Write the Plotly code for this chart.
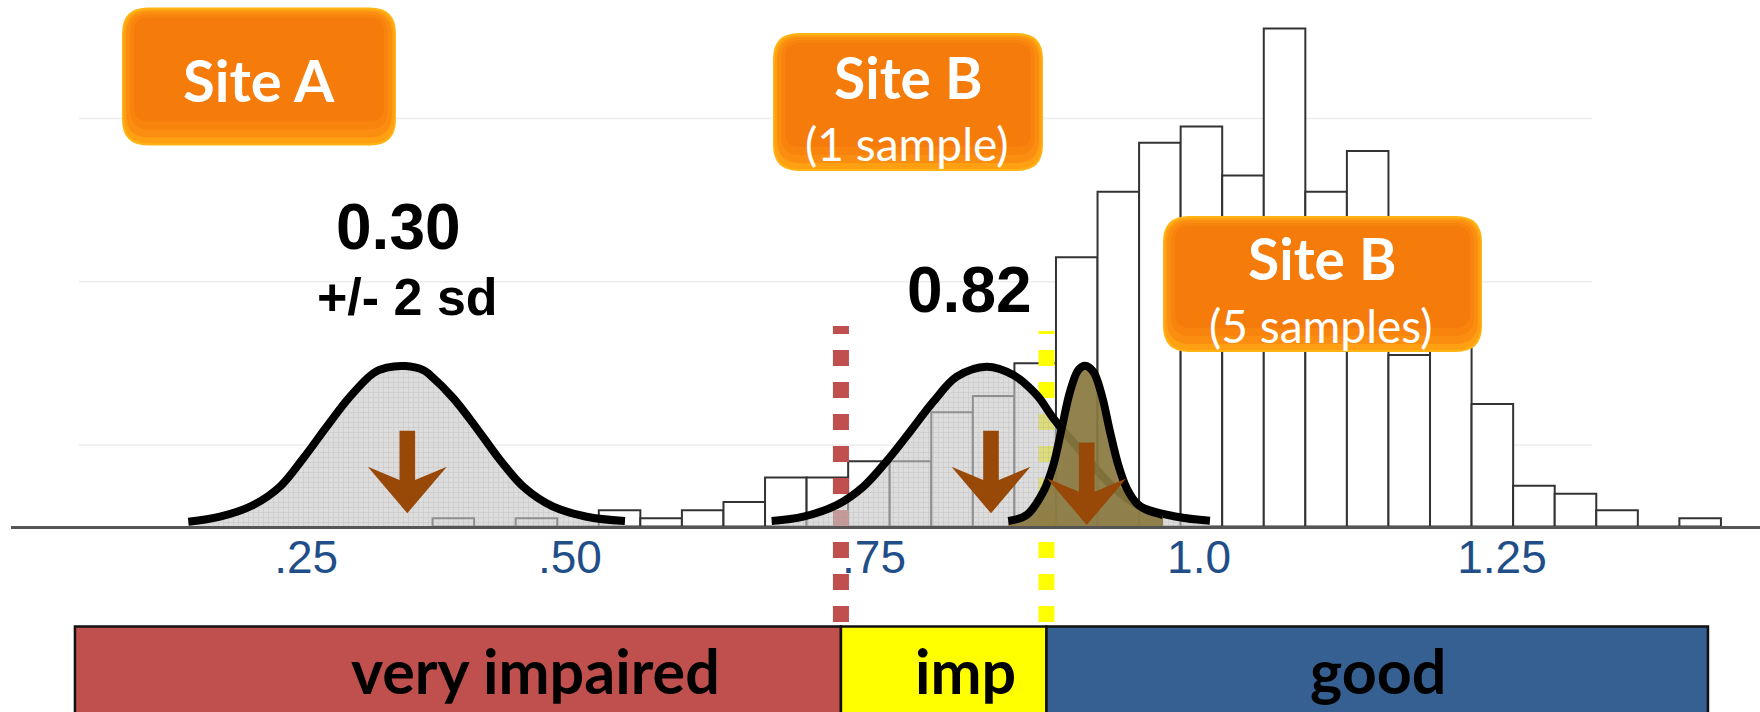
import plotly.graph_objects as go

# ------------------------------------------------------------------ data
# reference histogram (counts per bin)
bin_start = 0.3715
bin_width = 0.0346
bin_counts = [1, 0, 1, 0, 2, 1, 2, 3, 6, 6, 8, 8, 14, 16, 20, 33, 41, 47, 49, 43,
              61, 41, 46, 21, 26, 15, 5, 4, 2, 0, 1]

# Site A curve
site_a_x = [0.1682, 0.1946, 0.2223, 0.2445, 0.2639, 0.2834, 0.3028, 0.3222, 0.3333,
            0.3486, 0.3638, 0.3694, 0.3888, 0.4083, 0.4277, 0.4471, 0.4720, 0.4998, 0.5317]
site_a_y = [0.59, 1.20, 2.63, 4.88, 8.36, 12.23, 15.90, 18.77, 19.45,
            19.66, 19.17, 18.56, 15.71, 12.03, 8.15, 4.88, 2.43, 1.20, 0.67]

# Site B, 1 sample
site_b1_x = [0.6538, 0.6802, 0.7080, 0.7301, 0.7496, 0.7690, 0.7884, 0.8079, 0.8328,
             0.8550, 0.8745, 0.8883, 0.9161, 0.9355, 0.9605, 0.9910, 1.0187]
site_b1_y = [0.67, 1.20, 2.63, 4.88, 8.02, 11.61, 15.29, 18.35, 19.58,
             18.56, 16.11, 13.26, 8.39, 5.21, 2.43, 1.20, 0.71]

# Site B, 5 samples
site_b5_x = [0.8508, 0.8661, 0.8800, 0.8883, 0.8953, 0.9022, 0.9091, 0.9147, 0.9216,
             0.9286, 0.9355, 0.9424, 0.9494, 0.9577, 0.9660, 0.9796]
site_b5_y = [0.67, 1.41, 4.26, 7.53, 12.03, 16.51, 19.17, 19.70, 18.96,
             16.11, 11.61, 7.53, 4.68, 2.84, 2.02, 1.41]

# mean arrows (tip positions)
arrow_x = [0.3505, 0.8364, 0.9161]
arrow_y = [1.62, 1.62, 0.18]

# condition classes
thresholds = [0.7115, 0.8826]
band_edges = [0.0738, 0.7115, 0.8826, 1.4333]
band_labels = ["very impaired", "imp", "good"]

tick_pos = [0.2663, 0.4859, 0.7390, 1.0096, 1.2618]
tick_text = [".25", ".50", ".75", "1.0", "1.25"]
grid_levels = [10, 30, 50]

# ------------------------------------------------------------------ geometry helpers
W, H, L = 1760, 712, 11
BASE_PX = 526.5
PX_PER_X = 1201.2
PX_PER_Y = 8.1625


def vx(p):
    return 0.75 + (p - 887.2) / PX_PER_X


def vy(p):
    return (BASE_PX - p) / PX_PER_Y


X_RANGE = [vx(L), vx(W)]
Y_RANGE = [vy(H), vy(0)]

BAND_COLORS = ["#C0504D", "#FFFF00", "#376092"]
ARROW_COL = "#984807"

fig = go.Figure()

# histogram
centers = [bin_start + bin_width * (i + 0.5) for i in range(len(bin_counts))]
fig.add_trace(go.Bar(x=centers, y=bin_counts, width=bin_width,
                     marker=dict(color="white", line=dict(color="#333333", width=2)),
                     showlegend=False, hoverinfo="skip"))

# class bands below the axis
band_y = (vy(626.5) + vy(740)) / 2
band_th = vy(626.5) - vy(740)
fig.add_trace(go.Bar(orientation="h",
                     y=[band_y] * 3,
                     base=band_edges[:-1],
                     x=[band_edges[i + 1] - band_edges[i] for i in range(3)],
                     width=band_th,
                     marker=dict(color=BAND_COLORS, line=dict(color="#111111", width=2.5)),
                     showlegend=False, hoverinfo="skip"))

# threshold dashed lines (drawn bottom -> top so dash phase matches)
for thr, col, top in zip(thresholds, ["#C0504D", "#FFFF00"], [vy(326), vy(331)]):
    fig.add_trace(go.Scatter(x=[thr, thr], y=[vy(622), top], mode="lines",
                             line=dict(color=col, width=16, dash="16px,16px"),
                             showlegend=False, hoverinfo="skip"))

gray_pattern = dict(shape="+", size=5, solidity=0.25,
                    fgcolor="rgba(150,150,150,0.55)", bgcolor="rgba(200,200,200,0.62)")

fig.add_trace(go.Scatter(x=site_a_x, y=site_a_y, mode="lines", line_shape="spline",
                         line=dict(color="black", width=8), fill="tozeroy",
                         fillcolor="rgba(200,200,200,0.62)", fillpattern=gray_pattern,
                         showlegend=False, hoverinfo="skip"))
fig.add_trace(go.Scatter(x=site_b1_x, y=site_b1_y, mode="lines", line_shape="spline",
                         line=dict(color="black", width=8), fill="tozeroy",
                         fillcolor="rgba(200,200,200,0.62)", fillpattern=gray_pattern,
                         showlegend=False, hoverinfo="skip"))
fig.add_trace(go.Scatter(x=site_b5_x, y=site_b5_y, mode="lines", line_shape="spline",
                         line=dict(color="black", width=8), fill="tozeroy",
                         fillcolor="rgba(138,121,64,0.93)",
                         showlegend=False, hoverinfo="skip"))

shapes = []
# light grid lines
for g in grid_levels:
    shapes.append(dict(type="line", xref="x", yref="y", x0=vx(79), x1=vx(1592), y0=g, y1=g,
                       line=dict(color="#EDEDED", width=1.5), layer="below"))

# arrows
arrow_path = "M 0,0 L 39.5,46.6 L 7.8,33.3 L 7.8,82.6 L -7.8,82.6 L -7.8,33.3 L -39.5,46.6 Z"
for ax_, ay_ in zip(arrow_x, arrow_y):
    shapes.append(dict(type="path", xref="x", yref="y", xsizemode="pixel", ysizemode="pixel",
                       xanchor=ax_, yanchor=ay_, path=arrow_path,
                       fillcolor=ARROW_COL, line=dict(width=0), layer="above"))


def rrect(x0, y0, w, h, r):
    # pixel path, y upward, anchored at top-left
    return (f"M {x0 + r},{-y0} L {x0 + w - r},{-y0} Q {x0 + w},{-y0} {x0 + w},{-y0 - r} "
            f"L {x0 + w},{-y0 - h + r} Q {x0 + w},{-y0 - h} {x0 + w - r},{-y0 - h} "
            f"L {x0 + r},{-y0 - h} Q {x0},{-y0 - h} {x0},{-y0 - h + r} "
            f"L {x0},{-y0 - r} Q {x0},{-y0} {x0 + r},{-y0} Z")


# soft bevel of the orange call-out boxes: (inset side, inset top, inset bottom, radius, colour)
box_layers = [(0, 0, 0, 26, "#FFB414"),
              (1.5, 2, 2, 25, "#FFA012"),
              (4, 4, 8, 23, "#FB8E10"),
              (8, 7, 16, 19, "#F8840D"),
              (12, 10, 24, 15, "#F57B0B")]
boxes = [(122, 7.5, 274, 138), (773, 33, 270, 138), (1163, 216, 319, 136)]
for (bx, by, bw, bh) in boxes:
    for (ix, itop, ibot, r, col) in box_layers:
        shapes.append(dict(type="path", xref="x", yref="y", xsizemode="pixel",
                           ysizemode="pixel", xanchor=vx(bx), yanchor=vy(by),
                           path=rrect(ix, itop, bw - 2 * ix, bh - itop - ibot, r),
                           fillcolor=col, line=dict(width=0), layer="above"))

annotations = []


def txt(text, px, py, size, family, color, weight="bold"):
    annotations.append(dict(text=text, x=vx(px), y=vy(py), xref="x", yref="y",
                            showarrow=False, xanchor="center", yanchor="middle",
                            font=dict(size=size, family=family, color=color, weight=weight)))


CAL = "Lato, 'Open Sans', sans-serif"
ARI = "'Liberation Sans', Arial, sans-serif"
txt("Site A", 259, 79, 58, CAL, "white")
txt("Site B", 908, 77, 57, CAL, "white")
txt("(1 sample)", 907, 143, 46, CAL, "white", "normal")
txt("Site B", 1321.5, 258, 57, CAL, "white")
txt("(5 samples)", 1320, 325, 46, CAL, "white", "normal")
txt("0.30", 398.5, 227, 64, ARI, "black")
txt("+/- 2 sd", 407, 297, 52, ARI, "black")
txt("0.82", 969, 290, 64, ARI, "black")
for lab, cx in zip(band_labels, [535, 965, 1377.5]):
    txt(lab, cx, 670, 61, CAL, "black")

fig.update_layout(
    width=W, height=H, margin=dict(l=L, r=0, t=0, b=0),
    paper_bgcolor="white", plot_bgcolor="white", barmode="overlay",
    shapes=shapes, annotations=annotations, showlegend=False,
    xaxis=dict(range=X_RANGE, anchor="free", position=(H - BASE_PX) / H,
               showgrid=False, zeroline=False, showline=True, linecolor="#555555",
               linewidth=2.5, ticks="", tickvals=tick_pos, ticktext=tick_text,
               ticklabelstandoff=-10,
               tickfont=dict(family=ARI, size=46, color="#1F4E89")),
    yaxis=dict(range=Y_RANGE, showgrid=False, zeroline=False, showticklabels=False,
               showline=False),
)

fig.write_html("out.html", config={"displayModeBar": False},
               post_script="document.body.style.margin='0px';")
